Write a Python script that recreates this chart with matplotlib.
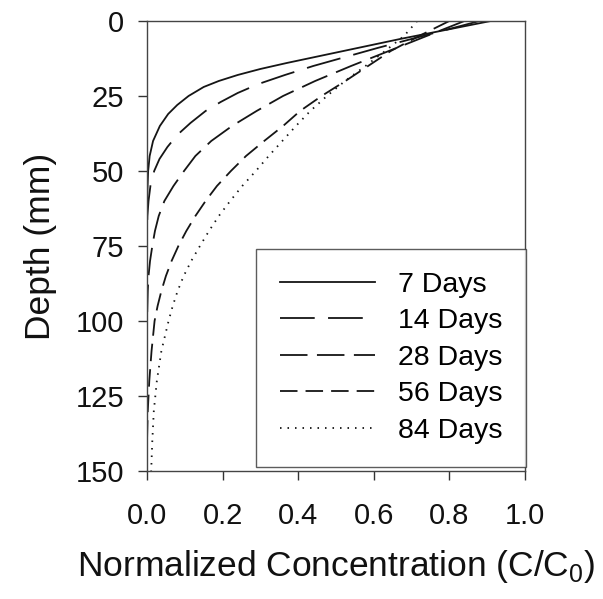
import matplotlib
matplotlib.use("Agg")
import matplotlib.pyplot as plt

plt.rcParams["font.family"] = ["Liberation Sans", "DejaVu Sans"]
plt.rcParams["lines.scale_dashes"] = False

# depth (mm) vs normalized concentration
depth_7 = [0, 2, 4, 6, 8, 10, 12, 14, 16, 18, 20, 22, 25, 28, 31, 35, 40, 45, 50, 60, 80, 100, 150]
conc_7 = [0.91, 0.83, 0.75, 0.67, 0.595, 0.52, 0.445, 0.37, 0.30, 0.24, 0.19, 0.15,
          0.11, 0.08, 0.056, 0.034, 0.016, 0.007, 0.003, 0.0, 0.0, 0.0, 0.0]

depth_14 = [0, 3, 6, 9, 12, 15, 18, 21, 24, 27, 30, 34, 38, 42, 46, 50, 55, 60, 65, 70, 150]
conc_14 = [0.88, 0.79, 0.70, 0.61, 0.525, 0.44, 0.365, 0.295, 0.24, 0.195, 0.155, 0.115,
           0.08, 0.054, 0.033, 0.019, 0.009, 0.004, 0.001, 0.0, 0.0]

depth_28 = [0, 5, 10, 15, 20, 25, 30, 35, 40, 45, 50, 55, 60, 65, 70, 75, 80, 85, 90, 100, 150]
conc_28 = [0.84, 0.74, 0.64, 0.54, 0.445, 0.36, 0.29, 0.225, 0.17, 0.128, 0.098, 0.07,
           0.046, 0.031, 0.021, 0.014, 0.008, 0.004, 0.002, 0.0, 0.0]

depth_56 = [0, 5, 10, 15, 20, 25, 30, 35, 40, 45, 50, 55, 60, 65, 70, 75, 80, 85, 90, 95,
            100, 110, 120, 130, 140, 150]
conc_56 = [0.80, 0.72, 0.645, 0.585, 0.525, 0.462, 0.405, 0.36, 0.31, 0.262, 0.222, 0.185,
           0.155, 0.128, 0.104, 0.083, 0.065, 0.05, 0.038, 0.028, 0.02, 0.012, 0.006,
           0.002, 0.0, 0.0]

depth_84 = [0, 5, 10, 15, 20, 25, 30, 35, 40, 45, 50, 55, 60, 65, 70, 75, 80, 85, 90, 95,
            100, 110, 120, 130, 140, 150]
conc_84 = [0.715, 0.68, 0.63, 0.578, 0.524, 0.476, 0.432, 0.394, 0.358, 0.322, 0.288, 0.252,
           0.22, 0.19, 0.164, 0.14, 0.117, 0.097, 0.081, 0.068, 0.057, 0.038, 0.026,
           0.018, 0.014, 0.011]

labels = ["7 Days", "14 Days", "28 Days", "56 Days", "84 Days"]
x_ticks = [0.0, 0.2, 0.4, 0.6, 0.8, 1.0]
y_ticks = [0, 25, 50, 75, 100, 125, 150]

series = [(depth_7, conc_7), (depth_14, conc_14), (depth_28, conc_28),
          (depth_56, conc_56), (depth_84, conc_84)]
styles = ["-", (0, (25, 9.6)), (0, (19.8, 6.8)), (0, (12.6, 5.8)), (0, (1.1, 4.3))]

fig = plt.figure(figsize=(6.03, 5.99), dpi=100)
ax = fig.add_axes([0.2438, 0.2137, 0.6268, 0.7513])

for (d, c), ls, lab in zip(series, styles, labels):
    ax.plot(c, d, color="#151515", lw=1.3, ls=ls, label=lab)

ax.set_xlim(0, 1.0)
ax.set_ylim(150, 0)
ax.set_xticks(x_ticks)
ax.set_xticklabels([f"{v:.1f}" for v in x_ticks])
ax.set_yticks(y_ticks)
ax.tick_params(direction="out", length=6.5, width=1.0, color="#333333",
               labelsize=21, pad=10, labelcolor="#111111")
ax.tick_params(axis="x", pad=16)
for sp in ax.spines.values():
    sp.set_color("#444444")
    sp.set_linewidth(1.0)

ax.set_xlabel("Normalized Concentration (C/C$_{\\mathregular{0}}$)", fontsize=25.5,
              color="#111111", labelpad=13)
ax.set_ylabel("Depth (mm)", fontsize=25.5, color="#111111", labelpad=13)

leg = ax.legend(loc="lower right", bbox_to_anchor=(1.003, 0.009), fontsize=20.5,
                frameon=True, fancybox=False, edgecolor="#333333",
                handlelength=3.37, handletextpad=0.8, labelspacing=0.365,
                borderpad=0.82, borderaxespad=0.0)
leg.get_frame().set_linewidth(1.0)

fig.savefig("out.png", dpi=100)
